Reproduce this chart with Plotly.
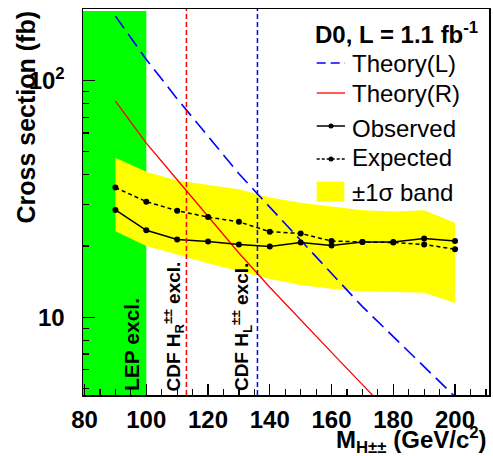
import plotly.graph_objects as go

# ---------------- data ----------------
mass = [90, 100, 110, 120, 130, 140, 150, 160, 170, 180, 190, 200]
observed = [28.4, 23.3, 21.3, 20.9, 20.3, 19.9, 20.7, 20.1, 20.8, 20.8, 21.5, 21.0]
expected = [35.3, 30.8, 28.2, 26.5, 25.3, 23.0, 22.6, 21.0, 20.8, 20.7, 20.3, 19.4]
band_hi = [47.2, 41.2, 37.8, 36.1, 34.7, 32.1, 30.5, 29.4, 28.3, 28.0, 28.3, 25.1]
band_lo = [23.1, 20.0, 18.4, 16.9, 15.6, 14.5, 13.7, 13.2, 12.9, 12.8, 12.7, 11.5]

theory_mass = [90, 100, 110, 120, 130, 140, 150, 160, 170, 180, 190, 200]
theory_L = [187, 122.7, 83.7, 58.0, 40.4, 29.2, 21.1, 15.2, 11.1, 8.29, 6.19, 4.62]
theory_R = [81.9, 54.4, 38.1, 26.6, 18.7, 13.4, 9.72, 7.11, 5.20, 3.80, 2.78, 2.03]

lep_limit = 100
cdf_limit_R = 113
cdf_limit_L = 136

x_ticks = [80, 100, 120, 140, 160, 180, 200]
y_ticks = [10, 100]
y_ticktext = ["10", "10<sup>2</sup>"]
y_minor = [5, 6, 7, 8, 9, 20, 30, 40, 50, 60, 70, 80, 90, 200]

FONT = "Liberation Sans"
W, H = 493, 456
ML, MR, MT, MB = 83, 4, 9, 61
PW, PH = W - ML - MR, H - MT - MB


def px(x):
    return (x - ML) / PW


def py(y):
    return (H - MB - y) / PH


fig = go.Figure()

# yellow +-1 sigma band
fig.add_trace(go.Scatter(
    x=mass + mass[::-1], y=band_hi + band_lo[::-1],
    fill="toself", fillcolor="#ffff00", line=dict(width=0),
    mode="lines", hoverinfo="skip", showlegend=False))

# theory curves
fig.add_trace(go.Scatter(
    x=theory_mass, y=theory_L, mode="lines",
    line=dict(color="#0000ff", width=1.6, dash="15px,7px"), showlegend=False))
fig.add_trace(go.Scatter(
    x=theory_mass, y=theory_R, mode="lines",
    line=dict(color="#ff0000", width=1.3), showlegend=False))

# expected & observed
fig.add_trace(go.Scatter(
    x=mass, y=expected, mode="lines+markers",
    line=dict(color="black", width=1.5, dash="4px,3px"),
    marker=dict(color="black", size=6), showlegend=False))
fig.add_trace(go.Scatter(
    x=mass, y=observed, mode="lines+markers",
    line=dict(color="black", width=1.5),
    marker=dict(color="black", size=6), showlegend=False))

shapes = []
# LEP excluded region
shapes.append(dict(type="rect", xref="x", yref="paper", x0=79.5, x1=lep_limit,
                   y0=0, y1=0.995, fillcolor="#00ff00", line=dict(width=0),
                   layer="below"))
# CDF limits
shapes.append(dict(type="line", xref="x", yref="paper", x0=cdf_limit_R, x1=cdf_limit_R,
                   y0=0, y1=1, line=dict(color="#ff0000", width=1.5, dash="5px,3px")))
shapes.append(dict(type="line", xref="x", yref="paper", x0=cdf_limit_L, x1=cdf_limit_L,
                   y0=0, y1=1, line=dict(color="#0000ff", width=1.5, dash="5px,3px")))

# legend (drawn manually to match layout)
lx0, lx1 = px(316.7), px(345)
lxm = 331
rows = {"L": 63, "R": 93, "obs": 128, "exp": 157, "band": 192}
shapes.append(dict(type="line", xref="paper", yref="paper", x0=lx0, x1=lx1,
                   y0=py(rows["L"]), y1=py(rows["L"]),
                   line=dict(color="#0000ff", width=1.6, dash="9px,5px")))
shapes.append(dict(type="line", xref="paper", yref="paper", x0=lx0, x1=lx1,
                   y0=py(rows["R"]), y1=py(rows["R"]),
                   line=dict(color="#ff0000", width=1.3)))
shapes.append(dict(type="line", xref="paper", yref="paper", x0=lx0, x1=lx1,
                   y0=py(rows["obs"] - 2), y1=py(rows["obs"] - 2),
                   line=dict(color="black", width=1.5)))
shapes.append(dict(type="line", xref="paper", yref="paper", x0=lx0, x1=lx1,
                   y0=py(rows["exp"] + 2), y1=py(rows["exp"] + 2),
                   line=dict(color="black", width=1.5, dash="3px,2px")))
for key, off in (("obs", -2), ("exp", 2)):
    shapes.append(dict(type="circle", xref="paper", yref="paper",
                       xsizemode="pixel", ysizemode="pixel",
                       xanchor=px(lxm), yanchor=py(rows[key] + off),
                       x0=-2.5, x1=2.5, y0=-2.5, y1=2.5,
                       fillcolor="black", line=dict(width=0)))
shapes.append(dict(type="rect", xref="paper", yref="paper", x0=lx0, x1=px(344.3),
                   y0=py(201.7), y1=py(181.7), fillcolor="#ffff00", line=dict(width=0)))

annotations = []
leg_texts = [("L", "Theory(L)"), ("R", "Theory(R)"), ("obs", "Observed"),
             ("exp", "Expected"), ("band", "±1σ band")]
for key, t in leg_texts:
    annotations.append(dict(xref="paper", yref="paper", x=px(350), y=py(rows[key]),
                            xanchor="left", yanchor="middle", text=t, showarrow=False,
                            font=dict(family=FONT, size=24, color="black")))
annotations.append(dict(xref="paper", yref="paper", x=px(480), y=py(33),
                        xanchor="right", yanchor="middle",
                        text="D0, L = 1.1 fb<sup>-1</sup>", showarrow=False,
                        font=dict(family=FONT, size=24, color="black", weight="bold")))

# vertical labels inside the plot
annotations.append(dict(xref="x", yref="paper", x=95.2, y=py(393), xanchor="center",
                        yanchor="bottom", textangle=-90, text="LEP excl.", showarrow=False,
                        font=dict(family=FONT, size=21, color="black", weight="bold")))
annotations.append(dict(xref="x", yref="paper", x=108.8, y=py(393), xanchor="center",
                        yanchor="bottom", textangle=-90,
                        text="CDF H<sub>R</sub><sup>±±</sup> excl.", showarrow=False,
                        font=dict(family=FONT, size=19, color="black", weight="bold")))
annotations.append(dict(xref="x", yref="paper", x=130.7, y=py(393), xanchor="center",
                        yanchor="bottom", textangle=-90,
                        text="CDF H<sub>L</sub><sup>±±</sup> excl.", showarrow=False,
                        font=dict(family=FONT, size=19, color="black", weight="bold")))

# axis titles
annotations.append(dict(xref="paper", yref="paper", x=px(25), y=py(9), xanchor="center",
                        yanchor="top", textangle=-90, text="Cross section (fb)",
                        showarrow=False,
                        font=dict(family=FONT, size=25, color="black", weight="bold")))
annotations.append(dict(xref="paper", yref="paper", x=1.0, y=py(440), xanchor="right",
                        yanchor="middle",
                        text="M<sub>H±±</sub> (GeV/c<sup>2</sup>)",
                        showarrow=False,
                        font=dict(family=FONT, size=24, color="black", weight="bold")))

fig.update_layout(
    width=W, height=H,
    margin=dict(l=ML, r=MR, t=MT, b=MB, autoexpand=False),
    paper_bgcolor="white", plot_bgcolor="white",
    showlegend=False, hovermode=False,
    shapes=shapes, annotations=annotations,
    font=dict(family=FONT, color="black"),
)
fig.update_xaxes(
    automargin=False,
    range=[79.5, 211], tickmode="array", tickvals=x_ticks,
    ticks="inside", ticklen=11, tickwidth=1.2, tickcolor="black",
    minor=dict(tickmode="linear", tick0=80, dtick=5, ticks="inside", ticklen=6,
               tickwidth=1.2, tickcolor="black", showgrid=False),
    showline=True, linewidth=1.5, linecolor="black", mirror=True,
    showgrid=False, zeroline=False, ticklabelstandoff=3,
    tickfont=dict(family=FONT, size=24, color="black", weight="bold"),
)
fig.update_yaxes(
    automargin=False,
    type="log", range=[0.672, 2.302], tickmode="array", tickvals=y_ticks,
    ticktext=y_ticktext,
    ticks="inside", ticklen=12, tickwidth=1.2, tickcolor="black",
    minor=dict(tickmode="array", tickvals=y_minor, ticks="inside", ticklen=6,
               tickwidth=1.2, tickcolor="black", showgrid=False),
    showline=True, linewidth=1.5, linecolor="black", mirror=True,
    showgrid=False, zeroline=False, ticklabelstandoff=12,
    tickfont=dict(family=FONT, size=24, color="black", weight="bold"),
)

fig.write_html(
    "out.html",
    config={"displayModeBar": False, "staticPlot": True},
    post_script="document.body.style.margin='0';document.body.style.overflow='hidden';",
)
